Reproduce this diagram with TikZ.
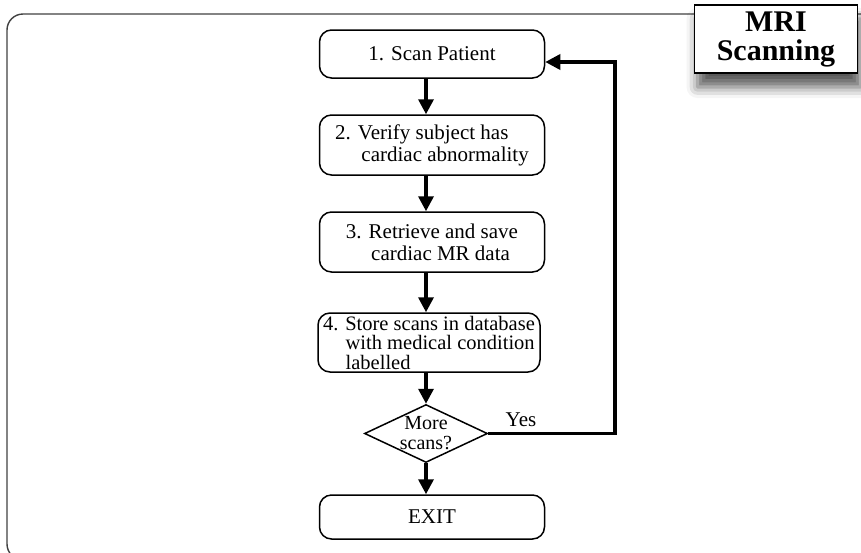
\documentclass[tikz,border=0pt]{standalone}
\usepackage{fontspec}
\setmainfont{Liberation Serif}
\usetikzlibrary{arrows.meta,shapes.geometric,shadows.blur}
\begin{document}
\begin{tikzpicture}[x=1pt,y=-1pt,
  stepbox/.style={draw,line width=1.5pt,rounded corners=12pt,minimum width=225pt,
    font=\fontsize{21}{22}\selectfont},
  flow/.style={line width=3.4pt,-{Triangle[width=15pt,length=15pt]}}]
\useasboundingbox (0,0) rectangle (861,552);
% outer panel
\draw[line width=1.4pt,draw=black!75,rounded corners=16pt] (7,14) rectangle (880,560);
% title box
\node[draw,line width=1.6pt,fill=white,minimum width=163pt,minimum height=68pt,
  font=\fontsize{30}{29}\selectfont\bfseries,align=center,
  blur shadow={shadow xshift=3pt,shadow yshift=-14pt,shadow blur radius=11pt,shadow opacity=65}]
  (title) at (776,39) {MRI\\Scanning};
% steps
\node[stepbox,minimum height=48pt] (s1) at (432,54) {1. Scan Patient};
\node[stepbox,minimum height=60pt,align=left] (s2) at (432,145)
  {2. Verify subject has\\\hspace*{1.25em}cardiac abnormality};
\node[stepbox,minimum height=60pt,align=left] (s3) at (432,242)
  {3. Retrieve and save\\\hspace*{1.2em}cardiac MR data};
\node[stepbox,minimum width=222pt,minimum height=59pt,inner ysep=0pt,align=left,
  font=\fontsize{20.5}{19.5}\selectfont] (s4) at (429,342.5)
  {4. Store scans in database\\\hspace*{1.1em}with medical condition\\\hspace*{1.1em}labelled};
% decision: outline sized on its own, question set inside it
\node[draw,diamond,line width=1.5pt,minimum width=123pt,minimum height=58pt,inner sep=0pt,
  aspect=2.12] (d) at (426,433.5) {};
\node[align=center,font=\fontsize{20}{20}\selectfont] (dq) at (d.center) {More\\scans?};
\node[stepbox,minimum height=44pt] (ex) at (432,517) {EXIT};
% connectors, all on one vertical
\draw[flow] (s1.south -| d.center) -- (s2.north -| d.center);
\draw[flow] (s2.south -| d.center) -- (s3.north -| d.center);
\draw[flow] (s3.south -| d.center) -- (s4.north -| d.center);
\draw[flow] (s4.south -| d.center) -- (d.north);
\draw[flow] (d.south) -- (ex.north -| d.center);
\coordinate (cr) at (615,433.5);
\coordinate (ct) at (615,62);
\draw[flow] (d.east) -- (cr) -- (ct) -- (s1.east |- ct);
\node[font=\fontsize{21}{22}\selectfont] (yes) at (521,420) {Yes};
\end{tikzpicture}
\end{document}
